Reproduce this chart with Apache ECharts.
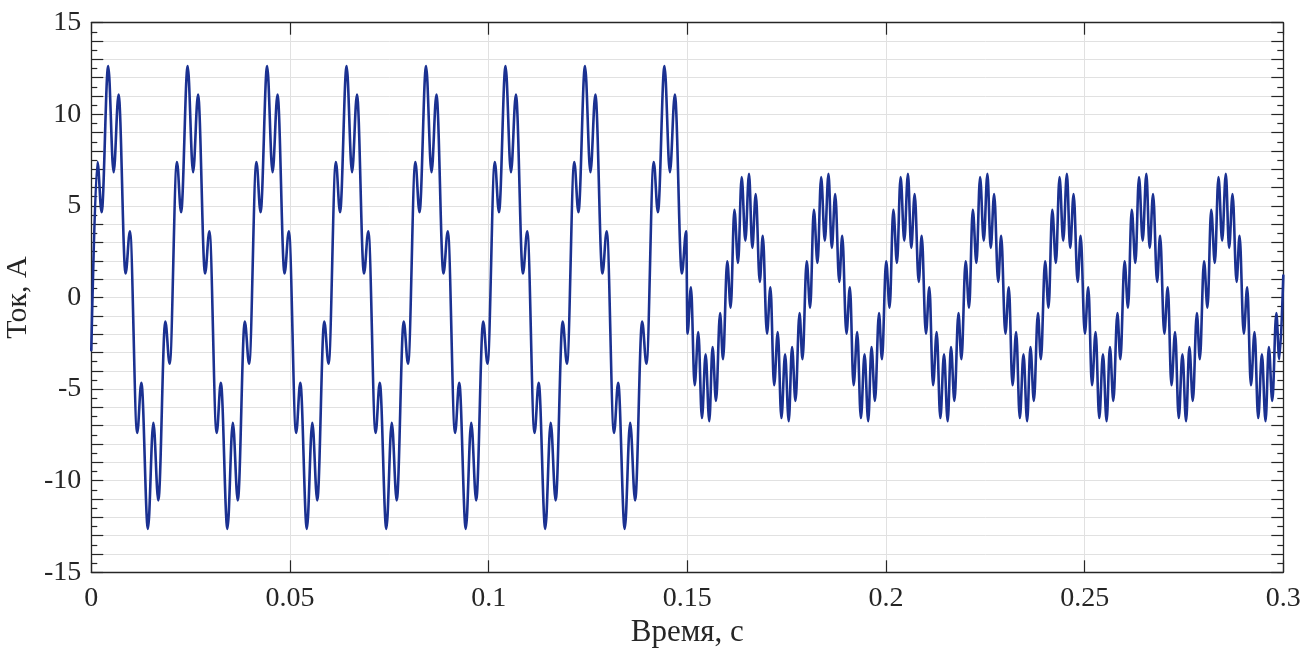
<!DOCTYPE html>
<html>
<head>
<meta charset="utf-8">
<script src="https://cdn.jsdelivr.net/npm/echarts@6/dist/echarts.min.js"></script>
<style>
  html, body { margin: 0; padding: 0; background: #ffffff; }
  #chart { width: 1315px; height: 648px; }
</style>
</head>
<body>
<div id="chart"></div>
<script>
// Axis settings / labels
const xTitle = 'Время, с';
const yTitle = 'Ток, А';
const xRange = [0, 0.3];
const yRange = [-15, 15];

// First regime (0 – 0.15 s): extremes, [time s, current A]
const firstRegime = [
  [0, -2.87],
  [0.00155, 7.39], [0.0026, 4.66], [0.00425, 12.63], [0.00562, 6.84], [0.00687, 11.08], [0.00863, 1.31], [0.00972, 3.62],
  [0.01155, -7.39], [0.0126, -4.66], [0.01425, -12.63], [0.01562, -6.84], [0.01687, -11.08], [0.01863, -1.31], [0.01972, -3.62],
  [0.02155, 7.39], [0.0226, 4.66], [0.02425, 12.63], [0.02562, 6.84], [0.02687, 11.08], [0.02863, 1.31], [0.02972, 3.62],
  [0.03155, -7.39], [0.0326, -4.66], [0.03425, -12.63], [0.03562, -6.84], [0.03687, -11.08], [0.03863, -1.31], [0.03972, -3.62],
  [0.04155, 7.39], [0.0426, 4.66], [0.04425, 12.63], [0.04562, 6.84], [0.04687, 11.08], [0.04863, 1.31], [0.04972, 3.62],
  [0.05155, -7.39], [0.0526, -4.66], [0.05425, -12.63], [0.05562, -6.84], [0.05687, -11.08], [0.05863, -1.31], [0.05972, -3.62],
  [0.06155, 7.39], [0.0626, 4.66], [0.06425, 12.63], [0.06562, 6.84], [0.06687, 11.08], [0.06863, 1.31], [0.06972, 3.62],
  [0.07155, -7.39], [0.0726, -4.66], [0.07425, -12.63], [0.07562, -6.84], [0.07687, -11.08], [0.07863, -1.31], [0.07972, -3.62],
  [0.08155, 7.39], [0.0826, 4.66], [0.08425, 12.63], [0.08562, 6.84], [0.08687, 11.08], [0.08863, 1.31], [0.08972, 3.62],
  [0.09155, -7.39], [0.0926, -4.66], [0.09425, -12.63], [0.09562, -6.84], [0.09687, -11.08], [0.09863, -1.31], [0.09972, -3.62],
  [0.10155, 7.39], [0.1026, 4.66], [0.10425, 12.63], [0.10562, 6.84], [0.10687, 11.08], [0.10863, 1.31], [0.10972, 3.62],
  [0.11155, -7.39], [0.1126, -4.66], [0.11425, -12.63], [0.11562, -6.84], [0.11687, -11.08], [0.11863, -1.31], [0.11972, -3.62],
  [0.12155, 7.39], [0.1226, 4.66], [0.12425, 12.63], [0.12562, 6.84], [0.12687, 11.08], [0.12863, 1.31], [0.12972, 3.62],
  [0.13155, -7.39], [0.1326, -4.66], [0.13425, -12.63], [0.13562, -6.84], [0.13687, -11.08], [0.13863, -1.31], [0.13972, -3.62],
  [0.14155, 7.39], [0.1426, 4.66], [0.14425, 12.63], [0.14562, 6.84], [0.14687, 11.08], [0.14863, 1.31], [0.14972, 3.62]
];

// Second regime (0.15 – 0.3 s): extremes, [time s, current A]
const secondRegime = [
  [0.15005, -1.97], [0.15092, 0.55], [0.15185, -4.79], [0.15277, -1.89], [0.15368, -6.58], [0.15461, -3.10], [0.15553, -6.75], [0.15636, -2.71], [0.15723, -5.65], [0.15824, -0.85], [0.15899, -3.37],
  [0.16005, 1.97], [0.16092, -0.55], [0.16185, 4.79], [0.16277, 1.89], [0.16368, 6.58], [0.16461, 3.10], [0.16553, 6.75], [0.16636, 2.71], [0.16723, 5.65], [0.16824, 0.85], [0.16899, 3.37],
  [0.17005, -1.97], [0.17092, 0.55], [0.17185, -4.79], [0.17277, -1.89], [0.17368, -6.58], [0.17461, -3.10], [0.17553, -6.75], [0.17636, -2.71], [0.17723, -5.65], [0.17824, -0.85], [0.17899, -3.37],
  [0.18005, 1.97], [0.18092, -0.55], [0.18185, 4.79], [0.18277, 1.89], [0.18368, 6.58], [0.18461, 3.10], [0.18553, 6.75], [0.18636, 2.71], [0.18723, 5.65], [0.18824, 0.85], [0.18899, 3.37],
  [0.19005, -1.97], [0.19092, 0.55], [0.19185, -4.79], [0.19277, -1.89], [0.19368, -6.58], [0.19461, -3.10], [0.19553, -6.75], [0.19636, -2.71], [0.19723, -5.65], [0.19824, -0.85], [0.19899, -3.37],
  [0.20005, 1.97], [0.20092, -0.55], [0.20185, 4.79], [0.20277, 1.89], [0.20368, 6.58], [0.20461, 3.10], [0.20553, 6.75], [0.20636, 2.71], [0.20723, 5.65], [0.20824, 0.85], [0.20899, 3.37],
  [0.21005, -1.97], [0.21092, 0.55], [0.21185, -4.79], [0.21277, -1.89], [0.21368, -6.58], [0.21461, -3.10], [0.21553, -6.75], [0.21636, -2.71], [0.21723, -5.65], [0.21824, -0.85], [0.21899, -3.37],
  [0.22005, 1.97], [0.22092, -0.55], [0.22185, 4.79], [0.22277, 1.89], [0.22368, 6.58], [0.22461, 3.10], [0.22553, 6.75], [0.22636, 2.71], [0.22723, 5.65], [0.22824, 0.85], [0.22899, 3.37],
  [0.23005, -1.97], [0.23092, 0.55], [0.23185, -4.79], [0.23277, -1.89], [0.23368, -6.58], [0.23461, -3.10], [0.23553, -6.75], [0.23636, -2.71], [0.23723, -5.65], [0.23824, -0.85], [0.23899, -3.37],
  [0.24005, 1.97], [0.24092, -0.55], [0.24185, 4.79], [0.24277, 1.89], [0.24368, 6.58], [0.24461, 3.10], [0.24553, 6.75], [0.24636, 2.71], [0.24723, 5.65], [0.24824, 0.85], [0.24899, 3.37],
  [0.25005, -1.97], [0.25092, 0.55], [0.25185, -4.79], [0.25277, -1.89], [0.25368, -6.58], [0.25461, -3.10], [0.25553, -6.75], [0.25636, -2.71], [0.25723, -5.65], [0.25824, -0.85], [0.25899, -3.37],
  [0.26005, 1.97], [0.26092, -0.55], [0.26185, 4.79], [0.26277, 1.89], [0.26368, 6.58], [0.26461, 3.10], [0.26553, 6.75], [0.26636, 2.71], [0.26723, 5.65], [0.26824, 0.85], [0.26899, 3.37],
  [0.27005, -1.97], [0.27092, 0.55], [0.27185, -4.79], [0.27277, -1.89], [0.27368, -6.58], [0.27461, -3.10], [0.27553, -6.75], [0.27636, -2.71], [0.27723, -5.65], [0.27824, -0.85], [0.27899, -3.37],
  [0.28005, 1.97], [0.28092, -0.55], [0.28185, 4.79], [0.28277, 1.89], [0.28368, 6.58], [0.28461, 3.10], [0.28553, 6.75], [0.28636, 2.71], [0.28723, 5.65], [0.28824, 0.85], [0.28899, 3.37],
  [0.29005, -1.97], [0.29092, 0.55], [0.29185, -4.79], [0.29277, -1.89], [0.29368, -6.58], [0.29461, -3.10], [0.29553, -6.75], [0.29636, -2.71], [0.29723, -5.65], [0.29824, -0.85], [0.29899, -3.37],
  [0.3, 1.2]
];

const FONT = "'Liberation Serif', 'DejaVu Serif', serif";
const INK = '#262626';
const GRIDC = '#e1e1e1';

const chart = echarts.init(document.getElementById('chart'), null, { renderer: 'canvas' });

const xAxisBase = {
  type: 'value', min: xRange[0], max: xRange[1], interval: 0.05,
  axisLine: { show: true, onZero: false, lineStyle: { color: INK, width: 1.3 } },
  axisTick: { show: true, inside: true, length: 12, lineStyle: { color: INK, width: 1.2 } }
};
const yAxisBase = {
  type: 'value', min: yRange[0], max: yRange[1], interval: 1,
  axisLine: { show: true, onZero: false, lineStyle: { color: INK, width: 1.3 } },
  axisTick: { show: true, inside: true, length: 12, lineStyle: { color: INK, width: 1.2 } },
  minorTick: { show: true, splitNumber: 2, length: 6, lineStyle: { color: INK, width: 1.2 } }
};

chart.setOption({
  animation: false,
  backgroundColor: '#ffffff',
  grid: { left: 91.3, right: 31.7, top: 22.7, bottom: 75.7, containLabel: false, outerBoundsMode: 'none' },
  xAxis: [
    Object.assign({}, xAxisBase, {
      position: 'bottom',
      name: xTitle, nameLocation: 'middle', nameGap: 45,
      nameTextStyle: { fontFamily: FONT, fontSize: 31, color: INK },
      axisLabel: {
        fontFamily: FONT, fontSize: 28, color: INK, margin: 12,
        formatter: v => String(+v.toFixed(2))
      },
      splitLine: { show: true, lineStyle: { color: GRIDC, width: 1 } }
    }),
    Object.assign({}, xAxisBase, {
      position: 'top',
      axisLabel: { show: false },
      splitLine: { show: false }
    })
  ],
  yAxis: [
    Object.assign({}, yAxisBase, {
      position: 'left',
      name: yTitle, nameLocation: 'middle', nameGap: 53,
      nameTextStyle: { fontFamily: FONT, fontSize: 30, color: INK },
      axisLabel: {
        fontFamily: FONT, fontSize: 28, color: INK, margin: 10,
        formatter: v => (Math.round(v) % 5 === 0 ? String(Math.round(v)) : '')
      },
      splitLine: { show: true, lineStyle: { color: GRIDC, width: 1 } }
    }),
    Object.assign({}, yAxisBase, {
      position: 'right',
      axisLabel: { show: false },
      splitLine: { show: false }
    })
  ],
  series: [{
    type: 'line',
    xAxisIndex: 0, yAxisIndex: 0,
    data: firstRegime.concat(secondRegime),
    showSymbol: false,
    symbol: 'none',
    smooth: 0.36,
    smoothMonotone: 'x',
    clip: true,
    lineStyle: { color: '#1b3191', width: 2.6, join: 'round', cap: 'round' }
  }]
});
</script>
</body>
</html>
